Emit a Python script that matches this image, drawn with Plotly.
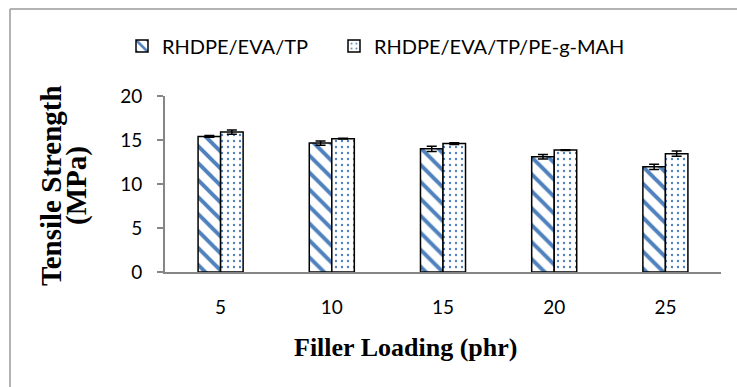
import plotly.graph_objects as go

categories = ["5", "10", "15", "20", "25"]
series1_name = "RHDPE/EVA/TP"
series2_name = "RHDPE/EVA/TP/PE-g-MAH"
series1 = [15.4, 14.65, 14.0, 13.1, 11.95]
series2 = [15.9, 15.15, 14.6, 13.85, 13.45]
series1_err = [0.1, 0.25, 0.3, 0.25, 0.3]
series2_err = [0.25, 0.05, 0.1, 0.05, 0.3]
y_ticks = [0, 5, 10, 15, 20]
x_title = "Filler Loading (phr)"
y_title_lines = ["Tensile Strength", "(MPa)"]

BLUE = "#4F81BD"
tick_font = dict(family="Lato, Carlito, sans-serif", size=19, color="#000000")
legend_font = dict(family="Lato, Carlito, sans-serif", size=20, color="#000000")
serif_bold = dict(family="Liberation Serif, Times New Roman, serif", color="#000000", weight="bold")

fig = go.Figure()
fig.add_trace(go.Bar(
    x=categories, y=series1, name=series1_name, legend="legend",
    marker=dict(color="white", line=dict(color="black", width=1.5),
                pattern=dict(shape="\\", fgcolor=BLUE, bgcolor="white", fgopacity=1,
                             size=12, solidity=0.33)),
    error_y=dict(type="data", array=series1_err, color="black", thickness=1.5, width=5),
))
fig.add_trace(go.Bar(
    x=categories, y=series2, name=series2_name, legend="legend2",
    marker=dict(color="white", line=dict(color="black", width=1.5),
                pattern=dict(shape=".", fgcolor=BLUE, bgcolor="white", fgopacity=1,
                             size=6, solidity=0.12)),
    error_y=dict(type="data", array=series2_err, color="black", thickness=1.5, width=5),
))

legend_common = dict(orientation="h", xref="container", yref="container",
                     xanchor="left", y=0.881, yanchor="middle",
                     font=legend_font, bgcolor="rgba(0,0,0,0)")

px = lambda v: (v - 165) / 556   # container x pixel -> paper x
py = lambda v: (272 - v) / 176   # container y pixel -> paper y

fig.update_layout(
    width=737, height=387,
    margin=dict(l=165, r=16, t=96, b=115),
    paper_bgcolor="white", plot_bgcolor="white",
    barmode="group", bargap=0.595, bargroupgap=0,
    showlegend=True,
    legend=dict(x=122 / 737, **legend_common),
    legend2=dict(x=334 / 737, **legend_common),
    xaxis=dict(showline=True, linecolor="#868686", linewidth=2, ticks="",
               tickfont=tick_font, showgrid=False, ticklabelstandoff=17),
    yaxis=dict(range=[0, 20], tickvals=y_ticks, showline=True, linecolor="#868686", linewidth=2,
               ticks="outside", ticklen=6, tickcolor="#868686", tickwidth=2,
               tickfont=tick_font, showgrid=False, zeroline=False, ticklabelstandoff=11),
    annotations=[
        dict(text=x_title, xref="paper", yref="paper", x=px(405), y=py(347),
             xanchor="center", yanchor="middle", showarrow=False, font=dict(size=26, **serif_bold)),
        dict(text=y_title_lines[0], xref="paper", yref="paper", x=px(51), y=py(186),
             xanchor="center", yanchor="middle", textangle=-90, showarrow=False,
             font=dict(size=29, **serif_bold)),
        dict(text=y_title_lines[1], xref="paper", yref="paper", x=px(76), y=py(186),
             xanchor="center", yanchor="middle", textangle=-90, showarrow=False,
             font=dict(size=29, **serif_bold)),
    ],
    shapes=[
        dict(type="line", xref="paper", yref="paper", x0=px(10), x1=px(10), y0=py(400), y1=py(9),
             line=dict(color="#9A9A9A", width=1.5), layer="above"),
        dict(type="line", xref="paper", yref="paper", x0=px(10), x1=px(750), y0=py(9), y1=py(9),
             line=dict(color="#9A9A9A", width=1.5), layer="above"),
    ],
)

fig.write_html("out.html")
